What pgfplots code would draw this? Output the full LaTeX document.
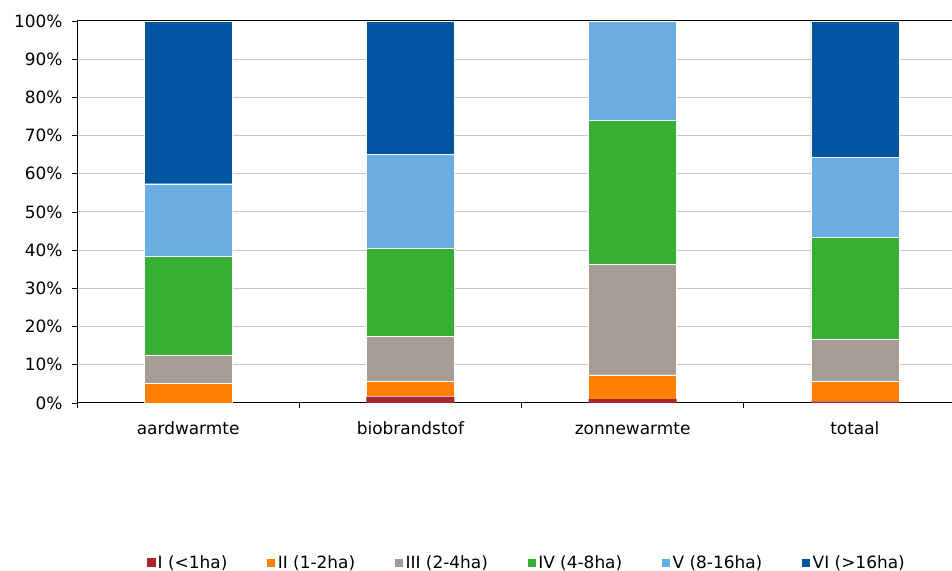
\documentclass[border=0pt]{standalone}
\usepackage{pgfplots}
\pgfplotsset{compat=1.18}
\usepackage{fontspec}
\setmainfont{DejaVu Sans}
\definecolor{cI}{HTML}{A8262C}
\definecolor{cII}{HTML}{FF7F00}
\definecolor{cIII}{HTML}{A59D95}
\definecolor{cIV}{HTML}{35B035}
\definecolor{cV}{HTML}{6AADE3}
\definecolor{cVI}{HTML}{0054A0}
\begin{document}
\begin{tikzpicture}[x=1bp,y=1bp]
\useasboundingbox (0,0) rectangle (952,571);
\begin{axis}[
    at={(77bp,168bp)}, anchor=south west,
    scale only axis, width=875bp, height=382bp,
    ybar stacked, bar width=88bp,
    xmin=-0.5, xmax=3.437, ymin=0, ymax=100,
    axis x line*=bottom, axis y line*=left,
    axis line style={black, line width=1pt},
    ytick={0,10,...,100},
    yticklabels={0\%,10\%,20\%,30\%,40\%,50\%,60\%,70\%,80\%,90\%,100\%},
    y tick label style={anchor=east, xshift=-6bp},
    xtick={-0.5,0.5,1.5,2.5}, xticklabels={},
    extra x ticks={0,1,2,3},
    extra x tick labels={aardwarmte,biobrandstof,zonnewarmte,totaal},
    extra x tick style={major tick length=0pt,
        tick label style={text height=13bp, text depth=4bp, yshift=-15bp}},
    extra y ticks={100}, extra y tick labels={},
    extra y tick style={major grid style={black, line width=1pt}, major tick length=0pt},
    major tick length=5bp, tick align=outside,
    tick style={black, line width=0.8pt},
    ymajorgrids, grid style={draw=black!22, line width=1pt},
    ticklabel style={font=\fontsize{17}{20}\selectfont},
    every bar/.style={draw=white, line width=0.4pt},
    legend columns=6,
    legend style={draw=none, at={(0.514,-0.419)}, anchor=center,
        font=\fontsize{17}{20}\selectfont,
        /tikz/every even column/.append style={column sep=37bp}},
    legend image code/.code={\fill[#1] (-2bp,-4bp) rectangle (7bp,5bp);},
]
\addplot+[fill=cI, draw=none] coordinates {(0,0) (1,1.7) (2,1.0) (3,0.4)};
\addlegendentry{I (<1ha)}
\addplot+[fill=cII, draw=white] coordinates {(0,5.2) (1,4.1) (2,6.4) (3,5.2)};
\addlegendentry{II (1-2ha)}
\addplot+[fill=cIII, draw=white] coordinates {(0,7.4) (1,11.6) (2,29.0) (3,11.0)};
\addlegendentry{III (2-4ha)}
\addplot+[fill=cIV, draw=white] coordinates {(0,25.9) (1,23.2) (2,37.5) (3,26.7)};
\addlegendentry{IV (4-8ha)}
\addplot+[fill=cV, draw=white] coordinates {(0,18.9) (1,24.4) (2,26.1) (3,21.0)};
\addlegendentry{V (8-16ha)}
\addplot+[fill=cVI, draw=white] coordinates {(0,42.6) (1,35.0) (2,0) (3,35.7)};
\addlegendentry{VI (>16ha)}
\end{axis}
\end{tikzpicture}
\end{document}
